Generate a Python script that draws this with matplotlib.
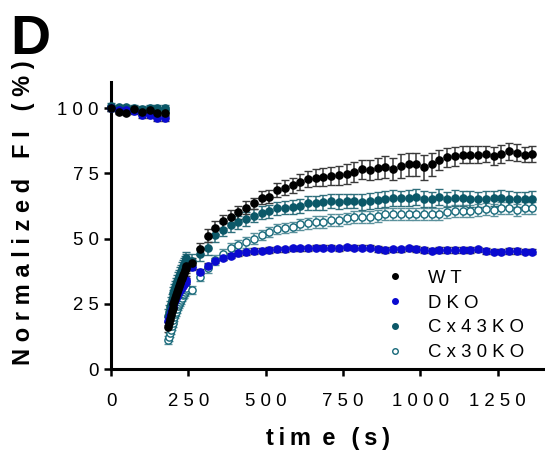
"""
plot.py — panel D: FRAP recovery (normalized FI vs time) for four genotypes.

Pre-bleach baseline, a dense acquisition right after the bleach, then
one frame every 25 s up to ~1360 s.  Mean ± SEM per genotype.
"""

import matplotlib
matplotlib.use("Agg")
import matplotlib.pyplot as plt
import numpy as np
from matplotlib.lines import Line2D
from matplotlib.ticker import FuncFormatter


# ──────────────────────────────────────────────────────────────────────
# Data
# ──────────────────────────────────────────────────────────────────────

groups = ["WT", "DKO", "Cx43KO", "Cx30KO"]

# acquisition grids (s)
t_pre = np.arange(0, 176, 25)           # 8 baseline frames
t_fast = np.arange(184, 245, 3)         # 21 frames right after bleach
t_slow = np.arange(262, 1363, 25)       # 45 frames, one per 25 s

pre = {
    "WT":     [100.0, 98.6, 98.2, 99.5, 98.4, 99.2, 98.2, 98.2],
    "DKO":    [100.0, 99.2, 99.2, 99.0, 97.4, 97.4, 96.2, 96.2],
    "Cx43KO": [100.9, 100.3, 100.3, 99.9, 99.5, 99.9, 99.9, 99.9],
    "Cx30KO": [100.0, 99.6, 99.8, 99.5, 99.3, 99.5, 99.2, 99.3],
}
pre_err = [1.0, 1.0, 1.0, 1.2, 1.2, 1.2, 1.2, 1.2]

fast = {
    "WT":     [16.0, 17.5, 19.2, 20.6, 22.1, 23.4, 24.8, 26.0, 27.3, 28.5, 29.7,
               30.8, 31.9, 33.0, 34.0, 35.0, 36.0, 36.9, 37.8, 38.7, 39.6],
    "DKO":    [18.4, 19.6, 20.8, 21.9, 22.9, 23.9, 24.8, 25.7, 26.5, 27.3, 28.1,
               28.8, 29.5, 30.2, 30.8, 31.4, 32.0, 32.5, 33.0, 33.5, 34.0],
    "Cx43KO": [20.5, 22.0, 23.6, 25.0, 26.4, 27.7, 29.0, 30.2, 31.4, 32.5, 33.6,
               34.6, 35.6, 36.6, 37.5, 38.4, 39.3, 40.1, 40.9, 41.7, 42.5],
    "Cx30KO": [11.0, 12.4, 13.8, 15.1, 16.4, 17.6, 18.8, 19.9, 21.0, 22.0, 23.0,
               24.0, 24.9, 25.8, 26.6, 27.4, 28.2, 28.9, 29.6, 30.3, 31.0],
}
fast_err = {"WT": 2.0, "DKO": 1.5, "Cx43KO": 2.5, "Cx30KO": 1.5}

slow = {
    "WT":     [40.5, 46.0, 51.0, 54.1, 56.7, 58.4, 60.0, 61.8,
               63.5, 65.6, 66.0, 68.6, 69.5, 70.4, 71.6, 72.8, 73.3, 73.7,
               74.0, 74.2, 74.7, 75.4, 76.5, 76.2, 77.0, 77.5, 76.5, 77.8,
               78.4, 78.4, 77.3, 78.4, 80.1, 81.1, 81.6, 82.2, 82.2, 82.2,
               82.4, 81.6, 82.4, 83.5, 82.9, 82.2, 82.4],
    "DKO":    [39.0, 37.3, 39.6, 41.5, 42.6, 43.4, 44.3, 44.7,
               45.2, 45.3, 45.6, 45.9, 45.9, 46.2, 46.2, 46.2, 46.5, 46.5,
               46.5, 46.2, 46.6, 46.5, 46.5, 46.5, 46.0, 45.6, 45.9, 45.9,
               46.2, 46.0, 45.6, 45.3, 45.6, 45.6, 45.6, 45.6, 45.6, 45.9,
               45.2, 45.0, 45.0, 45.2, 45.2, 45.0, 45.0],
    "Cx43KO": [41.5, 44.0, 46.2, 51.3, 53.3, 55.2, 56.2, 57.5,
               58.7, 59.9, 60.5, 61.6, 61.8, 62.2, 62.5, 63.5, 63.5, 63.9,
               64.4, 64.1, 64.4, 64.4, 64.1, 64.4, 64.8, 65.1, 65.6, 65.4,
               65.6, 66.0, 65.1, 65.0, 66.0, 65.0, 65.6, 65.4, 65.1, 65.0,
               65.1, 65.4, 65.6, 65.1, 65.0, 65.0, 65.1],
    "Cx30KO": [30.3, 35.4, 38.6, 41.8, 43.9, 46.2, 47.5, 48.5,
               50.0, 51.3, 52.6, 53.6, 54.1, 54.5, 55.4, 55.8, 56.4, 56.4,
               57.1, 57.1, 57.7, 58.4, 58.4, 58.4, 58.7, 59.3, 59.6, 59.6,
               59.6, 59.6, 59.3, 59.6, 59.6, 60.0, 60.5, 60.5, 60.5, 60.9,
               61.3, 60.9, 61.8, 61.8, 60.9, 61.6, 61.6],
}
slow_err = {
    "WT":     [2.0, 2.2, 2.5, 2.5, 2.5, 2.5, 2.5, 2.5,
               2.2, 2.5, 2.5, 2.8, 2.8, 3.0, 3.0, 3.2, 3.2, 3.4, 3.6, 3.6,
               3.8, 3.8, 3.8, 3.8, 4.0, 4.2, 4.2, 4.5, 4.5, 4.5, 4.8, 4.5,
               3.8, 3.6, 3.6, 3.4, 3.4, 3.2, 3.2, 3.4, 3.4, 3.2, 3.2, 3.0, 3.0],
    "DKO":    [1.0] * 45,
    "Cx43KO": [2.5, 2.5, 2.5, 2.5, 2.5, 2.5, 2.5, 2.5,
               2.5, 2.5, 2.5, 2.5, 2.5, 2.7, 2.7, 2.7, 2.7, 2.8, 2.8, 2.8,
               2.8, 2.8, 3.0, 3.0, 3.0, 3.0, 3.0, 3.0, 3.0, 3.0, 3.0, 3.0,
               3.0, 3.0, 3.0, 3.0, 3.0, 3.0, 3.0, 3.0, 3.0, 3.0, 3.0, 3.0, 3.0],
    "Cx30KO": [1.5, 1.5, 1.8, 1.8, 2.0, 2.0, 2.0, 2.0,
               2.0, 2.0, 2.0, 2.0, 2.0, 2.0, 2.2, 2.2, 2.2, 2.2, 2.2, 2.2,
               2.2, 2.3, 2.3, 2.3, 2.3, 2.3, 2.3, 2.3, 2.3, 2.3, 2.3, 2.3,
               2.3, 2.3, 2.3, 2.3, 2.3, 2.3, 2.3, 2.3, 2.3, 2.3, 2.3, 2.3, 2.3],
}

x_ticks = [0, 250, 500, 750, 1000, 1250]
y_ticks = [0, 25, 50, 75, 100]

# ──────────────────────────────────────────────────────────────────────
# Style
# ──────────────────────────────────────────────────────────────────────

FONT = ["Liberation Sans", "DejaVu Sans"]
plt.rcParams["font.family"] = FONT

style = {
    #            face       edge       errorbar
    "WT":     ("#000000", "#000000", "#3a3a3a"),
    "DKO":    ("#0a0ad0", "#0a0ad0", "#303040"),
    "Cx43KO": ("#0b5868", "#0b5868", "#2f6f7c"),
    "Cx30KO": ("white",   "#17697a", "#5b919c"),
}
draw_order = ["Cx30KO", "Cx43KO", "DKO", "WT"]

THIN = "\u2009"


def spaced(s, gap=" "):
    """Prism-style letter tracking: put a gap between every character."""
    return gap.join(s)


# ──────────────────────────────────────────────────────────────────────
# Figure
# ──────────────────────────────────────────────────────────────────────

fig = plt.figure(figsize=(5.45, 4.58), dpi=100)
ax = fig.add_axes([0.2037, 0.1943, 0.7945, 0.6266])

for g in draw_order:
    fc, ec, erc = style[g]
    t = np.concatenate([t_pre, t_fast, t_slow])
    y = np.concatenate([pre[g], fast[g], slow[g]])
    e = np.concatenate([pre_err, [fast_err[g]] * len(t_fast), slow_err[g]])
    ax.errorbar(t, y, yerr=e, fmt="o", ms=5.2, mfc=fc, mec=ec, mew=1.0,
                ecolor=erc, elinewidth=1.1, capsize=2.6, capthick=1.1,
                clip_on=False, zorder=3)

ax.set_xlim(0, 1400)
ax.set_ylim(0, 110)
ax.set_xticks(x_ticks)
ax.set_yticks(y_ticks)
ax.xaxis.set_major_formatter(FuncFormatter(lambda v, p: spaced(f"{v:.0f}")))
ax.yaxis.set_major_formatter(FuncFormatter(lambda v, p: spaced(f"{v:.0f}")))

for side in ("top", "right"):
    ax.spines[side].set_visible(False)
for side in ("left", "bottom"):
    ax.spines[side].set_linewidth(2.2)
ax.tick_params(axis="both", direction="out", length=5, width=1.8,
               labelsize=13.4, colors="black")
ax.tick_params(axis="x", pad=12.5)
ax.tick_params(axis="y", pad=4)

xlab = (spaced("tim", THIN) + THIN + " e" + THIN + " " + THIN
        + spaced("(s)", THIN))
ax.set_xlabel(xlab, fontsize=17, fontweight="bold", labelpad=12)
ax.set_ylabel("N o r m a l i z e d   F I   ( % )", fontsize=17,
              fontweight="bold")
ax.yaxis.set_label_coords(-0.176, 0.545)

# legend: small dots, no error bars, no frame
handles = [Line2D([], [], ls="none", marker="o", ms=4, mfc=style[g][0],
                  mec=style[g][1], mew=1.0) for g in groups]
ax.legend(handles, [spaced(g) for g in groups], loc="upper left",
          bbox_to_anchor=(0.612, 0.372), frameon=False, fontsize=13.4,
          handletextpad=1.2, labelspacing=0.42, handlelength=1.2,
          borderaxespad=0)

fig.text(0.018, 0.882, "D", fontsize=40, fontweight="bold")

fig.savefig("out.png", dpi=100)
plt.close(fig)
